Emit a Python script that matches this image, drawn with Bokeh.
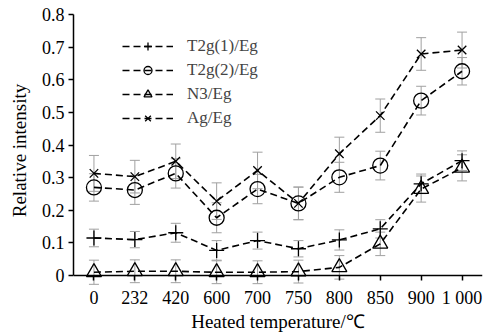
from bokeh.plotting import figure
from bokeh.models import (ColumnDataSource, FactorRange, Range1d, FixedTicker, NumeralTickFormatter,
                          Whisker, TeeHead, Legend, LegendItem, Span)
from bokeh.embed import file_html
from bokeh.resources import INLINE

temperatures = ["0", "232", "420", "600", "700", "750", "800", "850", "900", "1 000"]

t2g1 = [0.115, 0.110, 0.131, 0.077, 0.107, 0.082, 0.109, 0.143, 0.281, 0.352]
t2g1_err = [0.027, 0.025, 0.029, 0.030, 0.026, 0.025, 0.031, 0.028, 0.030, 0.030]
t2g2 = [0.270, 0.262, 0.313, 0.177, 0.265, 0.221, 0.301, 0.337, 0.536, 0.626]
t2g2_err = [0.042, 0.044, 0.045, 0.046, 0.045, 0.050, 0.046, 0.044, 0.044, 0.042]
n3 = [0.010, 0.013, 0.013, 0.010, 0.010, 0.012, 0.025, 0.097, 0.265, 0.330]
n3_err = [0.037, 0.035, 0.035, 0.035, 0.035, 0.035, 0.036, 0.036, 0.040, 0.040]
ag = [0.313, 0.303, 0.350, 0.228, 0.322, 0.221, 0.373, 0.490, 0.679, 0.691]
ag_err = [0.055, 0.050, 0.053, 0.056, 0.056, 0.050, 0.051, 0.051, 0.050, 0.055]

series_names = ["T2g(1)/Eg", "T2g(2)/Eg", "N3/Eg", "Ag/Eg"]
y_ticks = [0, 0.1, 0.2, 0.3, 0.4, 0.5, 0.6, 0.7, 0.8]

FONT = "Liberation Serif"

p = figure(x_range=FactorRange(*temperatures, range_padding=0),
           y_range=Range1d(-0.0337, 0.8),
           width=491, height=334,
           min_border_left=73, min_border_right=9, min_border_top=14, min_border_bottom=48,
           output_backend="svg", toolbar_location=None)
p.outline_line_color = None
p.xgrid.grid_line_color = None
p.ygrid.grid_line_color = None

# y axis
p.yaxis.ticker = FixedTicker(ticks=y_ticks)
p.yaxis.formatter = NumeralTickFormatter(format="0.[0]")
p.yaxis.bounds = (0, 0.8)
p.yaxis.minor_tick_line_color = None
p.yaxis.axis_label = "Relative intensity"
p.yaxis.axis_label_standoff = 9
p.yaxis.major_label_standoff = 4
p.yaxis.axis_line_width = 1.5
p.yaxis.major_tick_in = 0
p.yaxis.major_tick_out = 5

# x axis: the baseline is drawn at y = 0, ticks hang just below it
p.xaxis.axis_label = "Heated temperature/℃"
p.xaxis.axis_label_standoff = 0
p.xaxis.axis_line_color = None
p.xaxis.major_tick_in = 11
p.xaxis.major_tick_out = -6
p.xaxis.major_label_standoff = 1
p.add_layout(Span(location=0, dimension="width", line_color="black", line_width=1.5))

for ax in (p.xaxis[0], p.yaxis[0]):
    ax.major_tick_line_color = "black"
    ax.major_tick_line_width = 1.5
    ax.major_label_text_font = FONT
    ax.major_label_text_font_size = "18px"
    ax.major_label_text_color = "black"
    ax.axis_label_text_font = FONT
    ax.axis_label_text_font_size = "19px"
    ax.axis_label_text_font_style = "normal"
    ax.axis_label_text_color = "black"

GRAY = "#a0a0a0"
specs = [
    (t2g1, t2g1_err, "cross", 15),
    (t2g2, t2g2_err, "circle", 15),
    (n3, n3_err, "triangle", 15),
    (ag, ag_err, "x", 12),
]
items = []
for name, (vals, errs, marker, size) in zip(series_names, specs):
    src = ColumnDataSource(dict(x=temperatures, y=vals,
                                upper=[v + e for v, e in zip(vals, errs)],
                                lower=[v - e for v, e in zip(vals, errs)]))
    w = Whisker(source=src, base="x", upper="upper", lower="lower",
                line_color=GRAY, line_width=1,
                upper_head=TeeHead(size=10, line_color=GRAY, line_width=1),
                lower_head=TeeHead(size=10, line_color=GRAY, line_width=1))
    p.add_layout(w)
    lr = p.line("x", "y", source=src, line_color="black", line_width=1.6, line_dash="7 4")
    sr = p.scatter("x", "y", source=src, marker=marker, size=size, line_color="black",
                   line_width=1.3, fill_alpha=0)
    items.append(LegendItem(label=name, renderers=[lr, sr]))

legend = Legend(items=items, location=(49, 158), padding=0, margin=0,
                border_line_alpha=0, background_fill_alpha=0,
                glyph_width=51, glyph_height=20, spacing=4, label_standoff=14,
                label_text_font=FONT, label_text_font_size="17px")
p.add_layout(legend)

open("out.html", "w").write(file_html(p, INLINE))
